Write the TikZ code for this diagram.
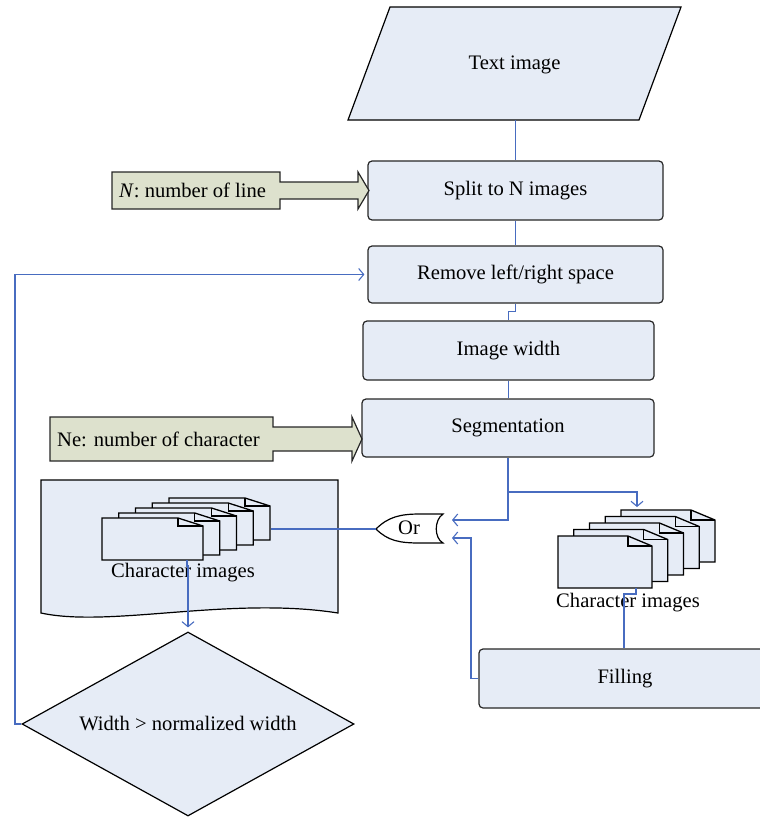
\documentclass[tikz,border=0pt]{standalone}
\usepackage{fontspec}
\setmainfont{Liberation Serif}
\usetikzlibrary{arrows.meta,shapes.geometric,calc}
\definecolor{boxfill}{RGB}{230,236,246}
\definecolor{linkblue}{RGB}{72,108,192}
\definecolor{olivefill}{RGB}{221,225,205}
\tikzset{
  basefont/.style={font=\fontsize{20.6}{24}\selectfont},
  proc/.style={draw=black!85, fill=boxfill, rounded corners=4pt, line width=1.2pt, inner sep=0pt, basefont},
  link/.style={draw=linkblue, line width=1.2pt},
  arr/.style={link, -{Straight Barb[length=5pt,width=12pt,line width=1.1pt]}},
  txt/.style={basefont, inner sep=0pt},
  outline/.style={draw=black, line width=1.2pt, fill=boxfill},
  docst/.style={draw=black, line width=1.3pt, fill=boxfill, line join=miter},
  inputarrow/.style={draw=black!85, line width=1.2pt, fill=olivefill},
}
% one document sheet: x, y (top left), width, height, fold width, fold height
\newcommand{\onedoc}[6]{%
  \draw[docst] (#1,#2) -- ({#1+#3-#5},#2) -- ({#1+#3},{#2+#6}) -- ({#1+#3},{#2+#4}) -- (#1,{#2+#4}) -- cycle;
  \draw[docst, fill=none] ({#1+#3-#5},#2) -- ({#1+#3-#5},{#2+#6}) -- ({#1+#3},{#2+#6});
}
\begin{document}
\begin{tikzpicture}[x=1pt,y=-1pt]
\useasboundingbox (0,0) rectangle (760,817);
\clip (0,0) rectangle (760,817);

% Text image (parallelogram)
\draw[outline] (390,7) -- (681,7) -- (639,120) -- (348,120) -- cycle;
\node[txt] (textimg) at (514.5,65) {Text image};
\coordinate (textimg-b) at (515.5,120);

% process boxes
\node[proc, minimum width=295pt, minimum height=59pt] (split) at (515.5,190.5) {Split to N images};
\node[proc, minimum width=295pt, minimum height=57pt] (remove) at (515.5,274.5) {Remove left/right space};
\node[proc, minimum width=291pt, minimum height=59pt] (imgw) at (508.5,350.5) {Image width};
\node[proc, minimum width=292pt, minimum height=58pt] (seg) at (508,428) {Segmentation};
\node[proc, minimum width=292pt, minimum height=59pt] (fill) at (625,678.5) {Filling};

% input arrows
\draw[inputarrow] (112,172) -- (280,172) -- (280,182) -- (358,182) -- (358,172) -- (369,190.5)
  -- (358,209) -- (358,199) -- (280,199) -- (280,209) -- (112,209) -- cycle;
\node[txt, anchor=west] (nin) at (119,190) {\textit{N}: number of line};
\draw[inputarrow] (50,417) -- (273,417) -- (273,427) -- (352,427) -- (352,417) -- (362,439)
  -- (352,461) -- (352,451) -- (273,451) -- (273,461) -- (50,461) -- cycle;
\node[txt, anchor=west] (nein) at (57,439) {Ne: number of character};

% left document container
\draw[outline] (41,480) -- (338,480) -- (338,613) .. controls (230,596) and (110,628) .. (41,613) -- cycle;
\foreach \i in {4,3,2,1,0} {
  \onedoc{102+16.75*\i}{518-5*\i}{101}{42}{25}{8}
}
\node[txt] (lchar) at (183,573) {Character images};
\coordinate (lstack-out) at (271,529);
\coordinate (lstack-b) at (187,560);

% right document stack
\foreach \i in {4,3,2,1,0} {
  \onedoc{558+15.75*\i}{536-6.5*\i}{94}{52}{24}{10}
}
\node[txt] (rchar) at (628,603) {Character images};
\coordinate (rstack-t) at (637,507);
\coordinate (rstack-b) at (636,588);

% Or gate
\draw[draw=black, line width=1.2pt, fill=white] (376,529) .. controls (388,517) and (400,514) .. (420,514) -- (443,514)
  .. controls (434,520) and (434,538) .. (443,543) -- (420,543) .. controls (400,543) and (388,541) .. (376,529) -- cycle;
\node[txt] (orgate) at (409,528) {Or};
\coordinate (or-tip) at (376,529);
\coordinate (or-in1) at (452,520);
\coordinate (or-in2) at (452,538);

% decision
\node[diamond, draw=black, line width=1.2pt, fill=boxfill, inner sep=0pt, aspect=1.8,
      minimum width=332pt, minimum height=184pt, basefont] (diam) at (188,724) {Width > normalized width};

% connectors
\draw[link] (textimg-b) -- (split.north);
\draw[link] (split.south) -- (remove.north);
\draw[link] (remove.south) -- ++(0,8) -| (imgw.north);
\draw[link] (imgw.south) -- (imgw.south |- seg.north);
\coordinate (br) at (508,492);
\draw[arr] (seg.south) |- (or-in1);
\draw[arr] (br) -| (rstack-t);
\draw[link] (fill.north -| 624,0) -- (624,594) -- (636,594) -- (rstack-b);
\draw[arr] (fill.west) -- (471,678.5) |- (or-in2);
\draw[link] (lstack-out) -- (or-tip);
\draw[arr, shorten >=4pt] (lstack-b) -- (187,566) -- (188,566) -- (diam.north);
\draw[arr, shorten >=3pt] (diam.west) -- (15,724) |- (remove.west);
\end{tikzpicture}
\end{document}
